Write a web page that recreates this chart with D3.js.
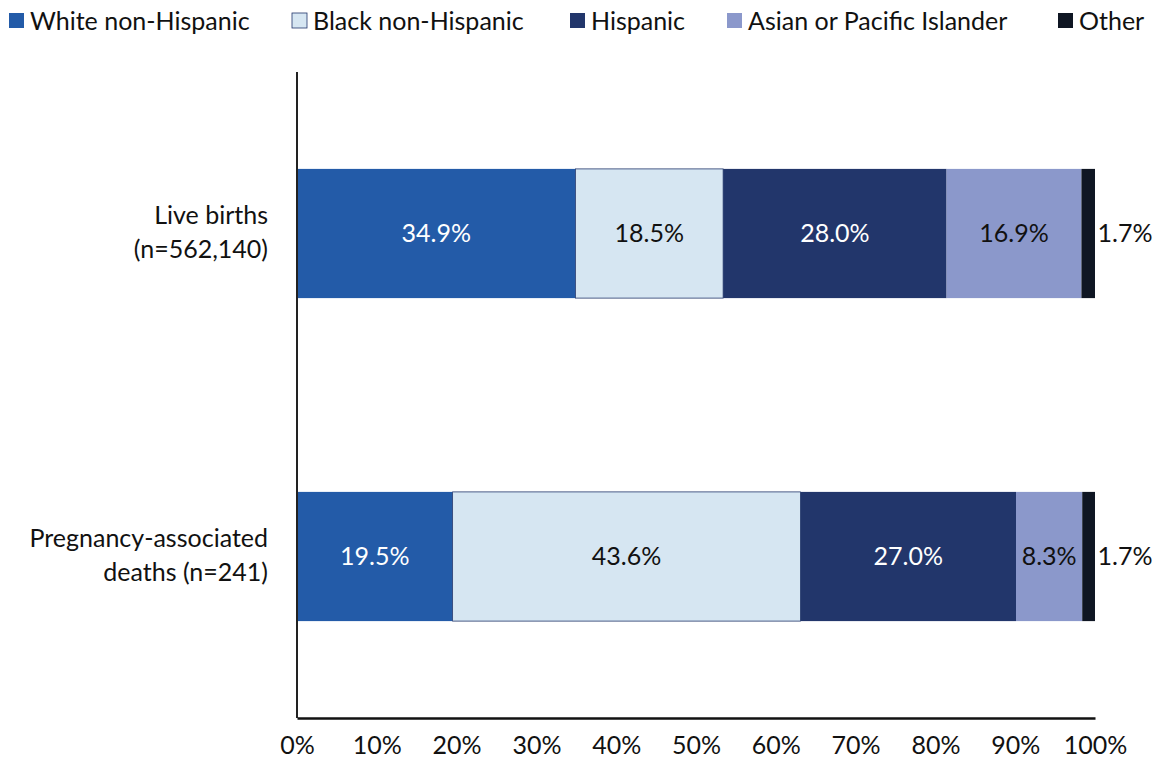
<!DOCTYPE html>
<html>
<head>
<meta charset="utf-8">
<script src="https://cdn.jsdelivr.net/npm/d3@7"></script>
<style>
  html, body { margin: 0; padding: 0; background: #fff; }
  svg { display: block; font-family: Lato, "Open Sans", sans-serif; }
</style>
</head>
<body>
<svg id="chart" width="1154" height="759"></svg>
<script>
const series = ["White non-Hispanic", "Black non-Hispanic", "Hispanic", "Asian or Pacific Islander", "Other"];
const categories = ["Live births|(n=562,140)", "Pregnancy-associated|deaths (n=241)"];
const liveBirths = [34.9, 18.5, 28.0, 16.9, 1.7];
const deaths = [19.5, 43.6, 27.0, 8.3, 1.7];
const colors = ["#235ba8", "#d6e6f2", "#22366b", "#8b98cb", "#0f1623"];
const labelColors = ["#ffffff", "#111111", "#ffffff", "#111111", "#111111"];
const xTicks = [0, 10, 20, 30, 40, 50, 60, 70, 80, 90, 100];

(function () {
const values = [liveBirths, deaths];
const svg = d3.select("#chart");
const pL = 297, pR = 1095, pT = 72, pB = 718;
const fs = 25;

const x = d3.scaleLinear().domain([0, 100]).range([pL, pR]);
const y = d3.scaleBand().domain(categories).range([pT, pB]).paddingInner(0.6).paddingOuter(0.3);

// bars
categories.forEach((cat, ci) => {
  let cum = 0;
  const g = svg.append("g");
  values[ci].forEach((v, si) => {
    const x0 = x(cum), x1 = x(Math.min(cum + v, 100));
    g.append("rect")
      .attr("x", x0).attr("y", y(cat))
      .attr("width", x1 - x0).attr("height", y.bandwidth())
      .attr("fill", colors[si])
      .attr("stroke", si === 1 ? "#22366b" : "none")
      .attr("stroke-width", si === 1 ? 0.8 : 0);
    const cx = si === series.length - 1 ? x(100) + 30 : (x0 + x1) / 2;
    g.append("text")
      .attr("x", cx).attr("y", y(cat) + y.bandwidth() / 2)
      .attr("dy", "0.35em")
      .attr("text-anchor", "middle")
      .attr("font-size", fs)
      .attr("fill", labelColors[si])
      .text(v.toFixed(1) + "%");
    cum += v;
  });
});

// y axis line
svg.append("line")
  .attr("x1", pL).attr("x2", pL)
  .attr("y1", pT).attr("y2", pB)
  .attr("stroke", "#222").attr("stroke-width", 2);

// x axis
const xAxis = d3.axisBottom(x).tickValues(xTicks).tickSize(0).tickPadding(18).tickFormat(d => d + "%");
const xg = svg.append("g").attr("transform", `translate(0,${pB})`).call(xAxis);
xg.select(".domain").attr("stroke", "#111").attr("stroke-width", 2.5);
xg.selectAll("text").attr("font-size", fs).attr("fill", "#111").attr("font-family", "Lato, sans-serif");

// y labels
categories.forEach(cat => {
  const lines = cat.split("|");
  const cy = y(cat) + y.bandwidth() / 2;
  const t = svg.append("text")
    .attr("x", 268).attr("text-anchor", "end")
    .attr("font-size", fs).attr("fill", "#111");
  lines.forEach((ln, i) => {
    t.append("tspan").attr("x", 268)
      .attr("y", cy + (i - (lines.length - 1) / 2) * 34 - 1)
      .attr("dy", "0.35em").text(ln);
  });
});

// legend
const legendX = [9, 292, 570, 727, 1058];
const lg = svg.append("g");
series.forEach((s, i) => {
  lg.append("rect")
    .attr("x", legendX[i]).attr("y", 13).attr("width", 15).attr("height", 15)
    .attr("fill", colors[i])
    .attr("stroke", i === 1 ? "#22366b" : "none").attr("stroke-width", 0.8);
  lg.append("text")
    .attr("x", legendX[i] + 21).attr("y", 21).attr("dy", "0.35em")
    .attr("font-size", fs).attr("fill", "#111").text(s);
});
})();
</script>
</body>
</html>
